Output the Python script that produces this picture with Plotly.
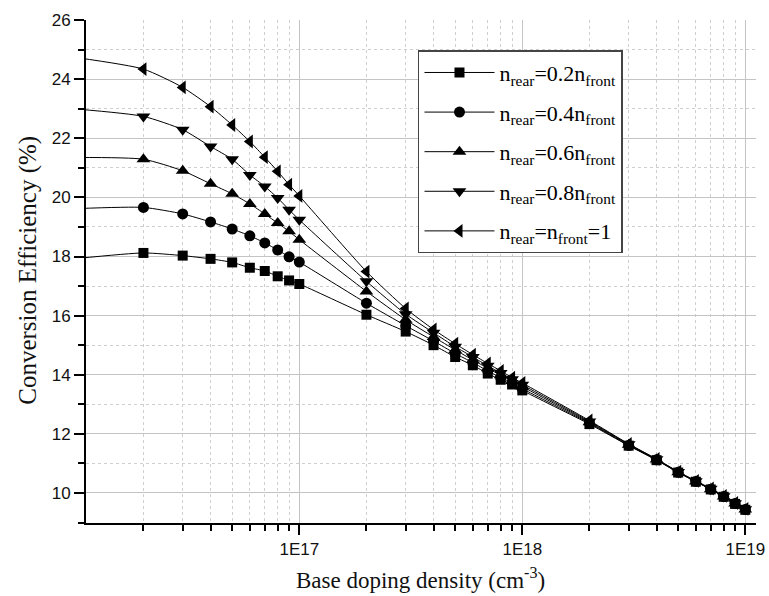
import plotly.graph_objects as go

# Base doping density (cm^-3)
doping = [1e16, 2e16, 3e16, 4e16, 5e16, 6e16, 7e16, 8e16, 9e16, 1e17,
          2e17, 3e17, 4e17, 5e17, 6e17, 7e17, 8e17, 9e17, 1e18,
          2e18, 3e18, 4e18, 5e18, 6e18, 7e18, 8e18, 9e18, 1e19]

eff_02 = [17.93, 18.12, 18.03, 17.92, 17.80, 17.62, 17.51, 17.33, 17.19, 17.07,
          16.03, 15.46, 15.00, 14.60, 14.32, 14.04, 13.83, 13.67, 13.47,
          12.33, 11.60, 11.11, 10.69, 10.38, 10.12, 9.87, 9.63, 9.43]
eff_04 = [19.62, 19.66, 19.44, 19.17, 18.93, 18.70, 18.46, 18.22, 17.99, 17.81,
          16.42, 15.66, 15.14, 14.72, 14.41, 14.13, 13.90, 13.73, 13.53,
          12.36, 11.61, 11.12, 10.70, 10.39, 10.13, 9.88, 9.64, 9.44]
eff_06 = [21.35, 21.29, 20.90, 20.46, 20.12, 19.78, 19.44, 19.13, 18.85, 18.57,
          16.82, 15.86, 15.28, 14.84, 14.50, 14.22, 13.98, 13.79, 13.60,
          12.39, 11.63, 11.13, 10.70, 10.39, 10.13, 9.88, 9.64, 9.44]
eff_08 = [22.99, 22.74, 22.29, 21.72, 21.29, 20.76, 20.37, 19.98, 19.58, 19.24,
          17.16, 16.05, 15.42, 14.95, 14.60, 14.30, 14.06, 13.85, 13.66,
          12.42, 11.65, 11.14, 10.71, 10.40, 10.14, 9.89, 9.65, 9.45]
eff_10 = [24.73, 24.34, 23.72, 23.07, 22.45, 21.89, 21.36, 20.88, 20.43, 20.05,
          17.49, 16.24, 15.53, 15.05, 14.68, 14.38, 14.13, 13.90, 13.72,
          12.45, 11.66, 11.15, 10.72, 10.41, 10.15, 9.90, 9.66, 9.46]

series_names = ["n<sub>rear</sub>=0.2n<sub>front</sub>",
                "n<sub>rear</sub>=0.4n<sub>front</sub>",
                "n<sub>rear</sub>=0.6n<sub>front</sub>",
                "n<sub>rear</sub>=0.8n<sub>front</sub>",
                "n<sub>rear</sub>=n<sub>front</sub>=1"]
series_values = [eff_02, eff_04, eff_06, eff_08, eff_10]
symbols = ["square", "circle", "triangle-up", "triangle-down", "triangle-left"]
sizes = [10, 11, 12, 12, 12]

x_tickvals = [1e17, 1e18, 1e19]
x_ticktext = ["1E17", "1E18", "1E19"]

fig = go.Figure()
for i, (name, vals, sym, sz) in enumerate(zip(series_names, series_values, symbols, sizes)):
    fig.add_trace(go.Scatter(
        x=doping, y=vals, name=name, mode="lines+markers",
        legendgroup=f"g{i}",
        line=dict(color="black", width=1, shape="spline", smoothing=0.6),
        marker=dict(symbol=sym, size=sz, color="black"),
    ))

tick_font = dict(family="Liberation Sans, Arial, sans-serif", size=17, color="#111")
serif = "Liberation Serif, Times New Roman, serif"

fig.update_layout(
    width=769, height=596,
    margin=dict(l=86, r=13, t=20, b=73),
    paper_bgcolor="white", plot_bgcolor="white",
    showlegend=True,
    legend=dict(
        x=0.4955, y=0.94, xanchor="left", yanchor="top",
        bgcolor="white", bordercolor="#444", borderwidth=1.5,
        font=dict(family=serif, size=22, color="black"),
        itemwidth=70, tracegroupgap=8,
    ),
    xaxis=dict(
        type="log", range=[16.0435, 19.048], automargin=False,
        tickvals=x_tickvals, ticktext=x_ticktext,
        ticks="outside", ticklen=10, tickwidth=2, tickcolor="black",
        showline=True, linecolor="black", linewidth=2,
        showgrid=True, gridcolor="#c4c4c4", gridwidth=1,
        tickfont=tick_font, zeroline=False,
        minor=dict(dtick="D1", ticks="outside", ticklen=6, tickwidth=2, tickcolor="black",
                   showgrid=True, gridcolor="#cfcfcf", griddash="dot", gridwidth=1),
    ),
    yaxis=dict(
        range=[8.984, 26.001], tick0=10, dtick=2, automargin=False,
        ticks="outside", ticklen=10, tickwidth=2, tickcolor="black",
        showline=True, linecolor="black", linewidth=2,
        showgrid=True, gridcolor="#c4c4c4", gridwidth=1,
        tickfont=tick_font, zeroline=False,
        minor=dict(dtick=1, ticks="outside", ticklen=6, tickwidth=2, tickcolor="black",
                   showgrid=True, gridcolor="#cfcfcf", griddash="dot", gridwidth=1),
    ),
    annotations=[
        dict(text="Base doping density (cm<sup>-3</sup>)", xref="paper", yref="paper",
             x=0.4993, y=-0.11, xanchor="center", yanchor="middle", showarrow=False,
             font=dict(family=serif, size=23, color="#111")),
        dict(text="Conversion Efficiency (%)", xref="paper", yref="paper",
             x=-0.0857, y=0.5027, xanchor="center", yanchor="middle", showarrow=False,
             textangle=-90, font=dict(family=serif, size=25, color="#111")),
    ],
)

# remove the browser's default 8px page margin so the figure fills the window exactly
fig.write_html("out.html", config={"displayModeBar": False},
               post_script="document.body.style.margin='0';")
